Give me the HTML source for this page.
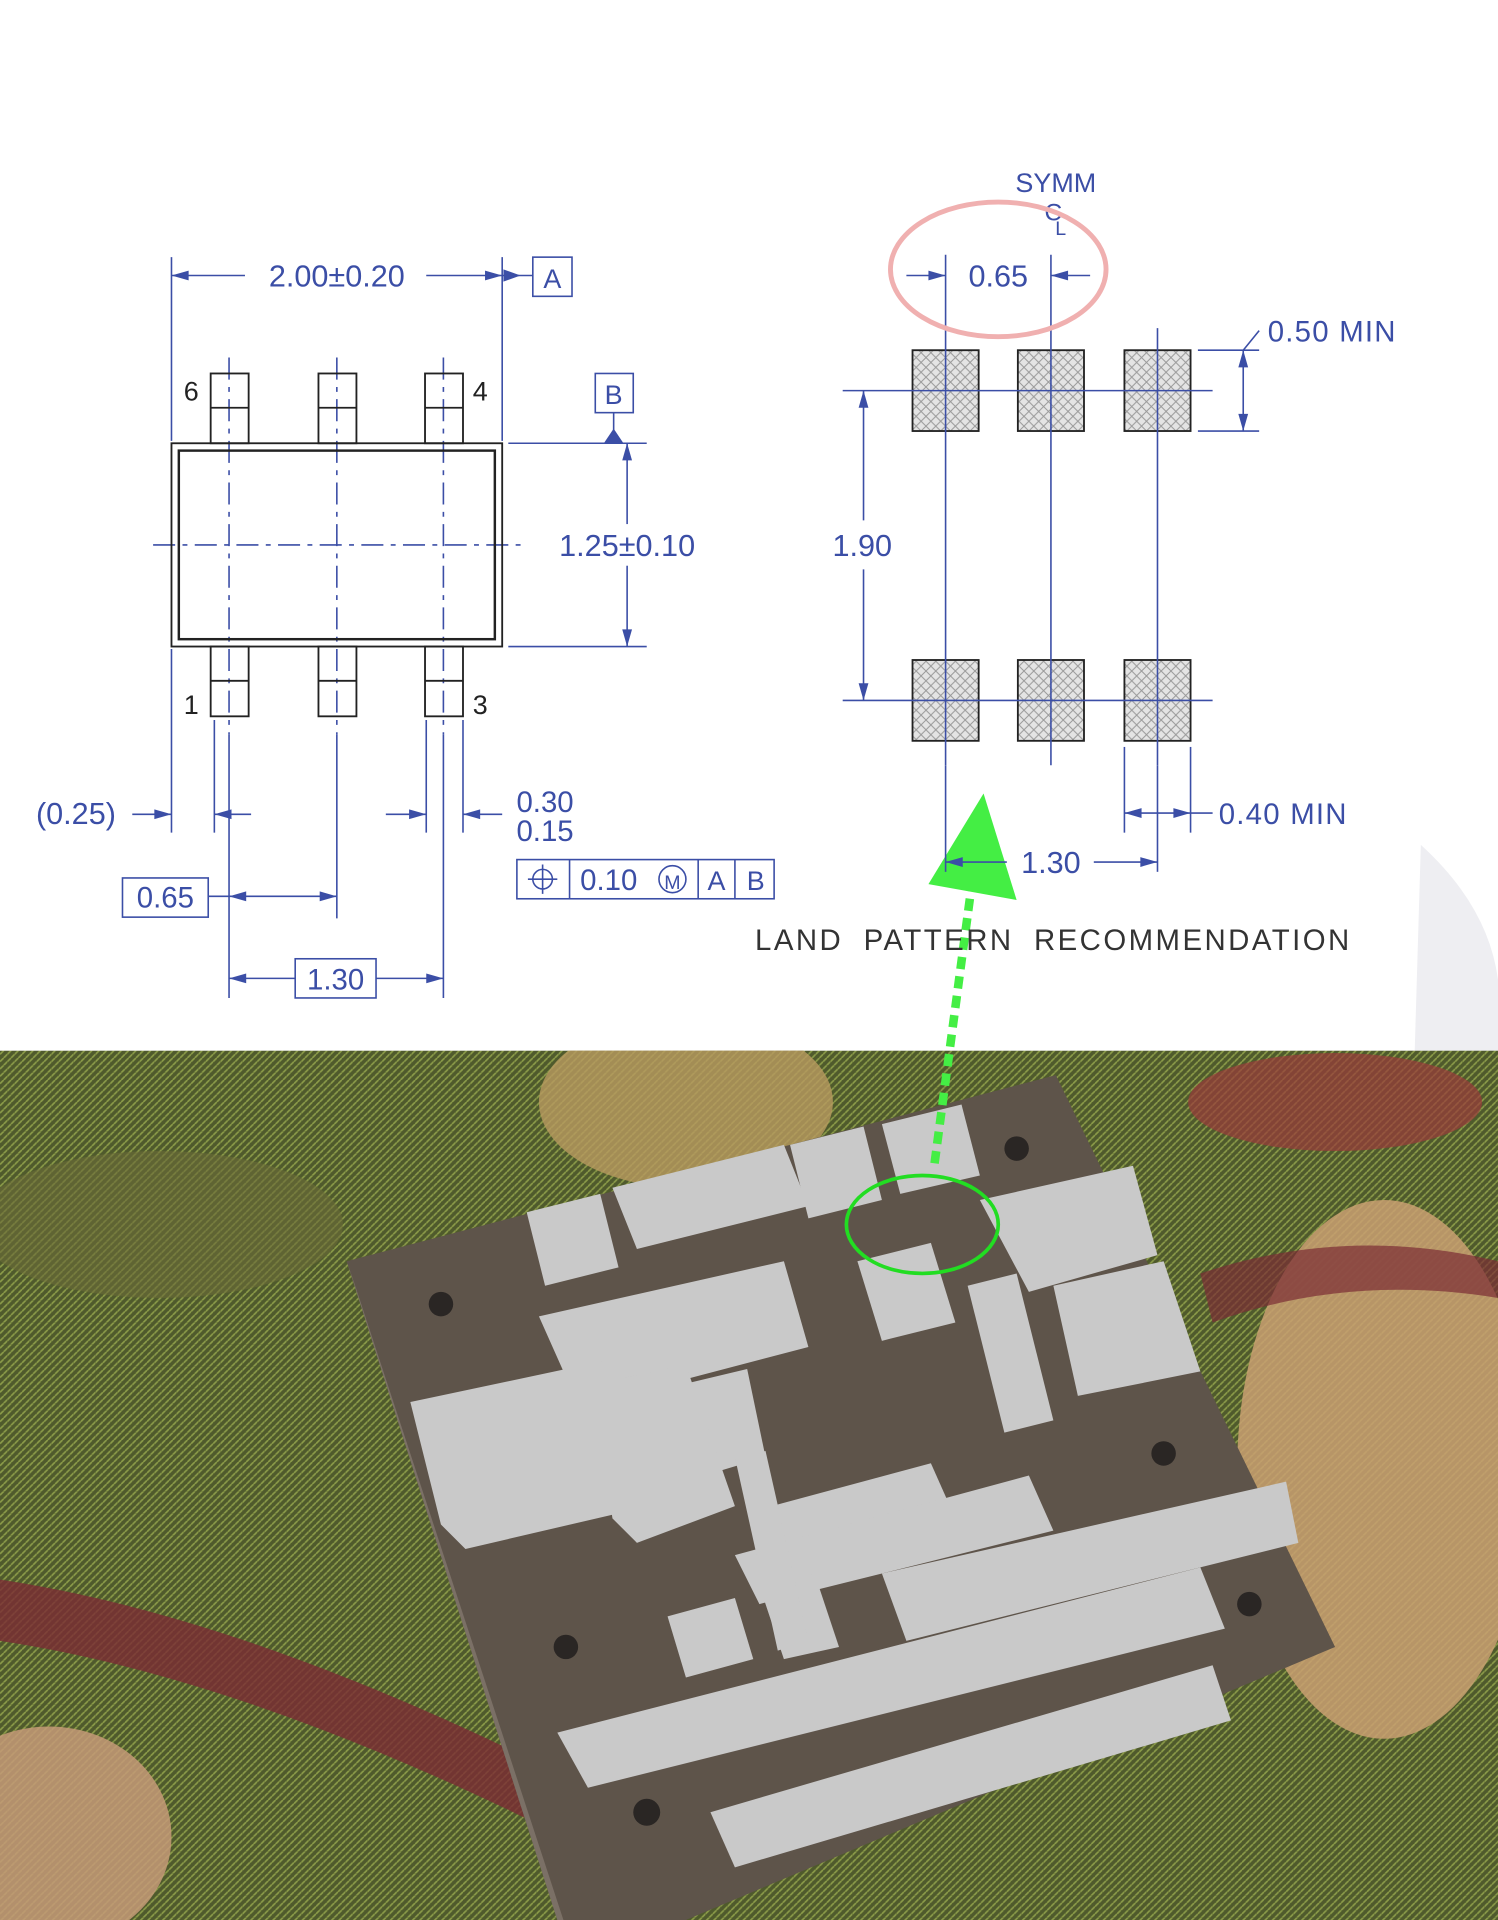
<!DOCTYPE html>
<html><head><meta charset="utf-8"><style>
html,body{margin:0;padding:0;background:#fff}
svg{display:block}
text{font-family:"Liberation Sans",sans-serif;fill:#3b4ea6}
</style></head><body>
<svg width="1498" height="1920" viewBox="0 0 1223 1568" preserveAspectRatio="none" xmlns="http://www.w3.org/2000/svg">
<defs>
<pattern id="h" width="8" height="8" patternUnits="userSpaceOnUse">
<rect width="8" height="8" fill="#e4e4e4"/>
<path d="M0 0L8 8M8 0L0 8" stroke="#999" stroke-width="0.8"/>
</pattern>
<pattern id="fab" width="6" height="6" patternUnits="userSpaceOnUse">
<rect width="6" height="6" fill="#4f5a2c"/>
<path d="M0 3L3 0M3 6L6 3" stroke="#8a9a48" stroke-width="1.4"/>
</pattern>
<clipPath id="bot"><rect y="858" width="1223" height="710"/></clipPath>
</defs>
<rect width="1223" height="858" fill="#fff"/>
<path d="M1160 690 Q1215 740 1223 800 L1223 858 L1155 858 Z" fill="#eeeef2"/>
<g clip-path="url(#bot)">
<rect y="858" width="1223" height="710" fill="url(#fab)"/>
<ellipse cx="560" cy="900" rx="120" ry="70" fill="#b89a60" opacity="0.8"/>
<ellipse cx="1130" cy="1200" rx="120" ry="220" fill="#c9a072" opacity="0.85"/>
<ellipse cx="1090" cy="900" rx="120" ry="40" fill="#9a3a3a" opacity="0.7"/>
<ellipse cx="40" cy="1500" rx="100" ry="90" fill="#c49a78" opacity="0.85"/>
<ellipse cx="130" cy="1000" rx="150" ry="60" fill="#6a6a38" opacity="0.6"/>
<path d="M0 1290 Q200 1320 460 1450 L460 1500 Q200 1370 0 1340Z" fill="#7a2c34" opacity="0.8"/>
<path d="M980 1040 Q1100 1000 1223 1030 L1223 1060 Q1100 1040 990 1080Z" fill="#7a2c34" opacity="0.7"/>
</g>
<polygon points="283,1030 862,878 1090,1345 560,1568 455,1568" fill="#5e544a"/>
<polygon points="283,1030 290,1050 460,1568 455,1568" fill="#7b7066"/>
<g fill="#c9c9c9">
<polygon points="430,990 490,975 505,1035 445,1050"/>
<polygon points="500,970 640,935 660,985 520,1020"/>
<polygon points="645,935 705,920 720,980 660,995"/>
<polygon points="720,918 785,902 800,960 735,975"/>
<polygon points="440,1075 640,1030 660,1100 470,1150 460,1120"/>
<polygon points="335,1145 500,1110 530,1230 380,1265 360,1245"/>
<polygon points="800,980 925,952 945,1025 840,1055"/>
<polygon points="860,1050 950,1030 980,1120 880,1140"/>
<polygon points="700,1030 760,1015 780,1080 720,1095"/>
<polygon points="560,1130 610,1118 625,1190 575,1205"/>
<polygon points="485,1130 560,1115 600,1230 520,1260 500,1240"/>
<polygon points="630,1230 760,1195 780,1240 650,1280"/>
<polygon points="600,1270 840,1205 860,1250 620,1310"/>
<polygon points="720,1285 1050,1210 1060,1260 740,1340"/>
<polygon points="545,1320 600,1305 615,1355 560,1370"/>
<polygon points="620,1295 665,1285 685,1345 640,1355"/>
<polygon points="600,1190 625,1185 660,1340 635,1348"/>
<polygon points="455,1415 980,1280 1000,1330 480,1460"/>
<polygon points="580,1480 990,1360 1005,1405 600,1525"/>
<polygon points="790,1050 830,1040 860,1160 820,1170"/>
</g>
<g fill="#2a2624">
<circle cx="360" cy="1065" r="10"/><circle cx="830" cy="938" r="10"/>
<circle cx="950" cy="1187" r="10"/><circle cx="462" cy="1345" r="10"/>
<circle cx="1020" cy="1310" r="10"/><circle cx="528" cy="1480" r="11"/>
</g>
<ellipse cx="753" cy="1000" rx="62" ry="40" fill="none" stroke="#22dd22" stroke-width="3"/>
<path d="M763 950 L795 710" stroke="#44ee44" stroke-width="7" stroke-dasharray="10 6" fill="none"/>
<polygon points="803,648 830,735 758,722" fill="#44ee44"/>

<g stroke="#3b4ea6" fill="none" stroke-width="1.3">
<line x1="140" y1="210" x2="140" y2="360"/><line x1="410" y1="210" x2="410" y2="360"/>
<line x1="140" y1="225" x2="200" y2="225"/><line x1="348" y1="225" x2="410" y2="225"/>
<line x1="410" y1="225" x2="435" y2="225"/>
<rect x="435" y="210" width="32" height="32"/>
<rect x="486" y="305" width="31" height="32"/>
<line x1="501" y1="337" x2="501" y2="355"/>
<line x1="415" y1="362" x2="528" y2="362"/><line x1="415" y1="528" x2="528" y2="528"/>
<line x1="512" y1="362" x2="512" y2="428"/><line x1="512" y1="462" x2="512" y2="528"/>
<g stroke-dasharray="18 6 4 6">
<line x1="125" y1="445" x2="425" y2="445"/>
<line x1="187" y1="292" x2="187" y2="600"/>
<line x1="275" y1="292" x2="275" y2="600"/>
<line x1="362" y1="292" x2="362" y2="600"/>
</g>
<line x1="140" y1="530" x2="140" y2="680"/>
<line x1="175" y1="588" x2="175" y2="680"/><line x1="187" y1="600" x2="187" y2="815"/>
<line x1="275" y1="600" x2="275" y2="750"/>
<line x1="348" y1="588" x2="348" y2="680"/><line x1="362" y1="600" x2="362" y2="815"/>
<line x1="378" y1="588" x2="378" y2="680"/>
<line x1="108" y1="665" x2="140" y2="665"/><line x1="175" y1="665" x2="205" y2="665"/>
<line x1="315" y1="665" x2="348" y2="665"/><line x1="378" y1="665" x2="410" y2="665"/>
<rect x="100" y="717" width="70" height="32"/>
<line x1="170" y1="732" x2="275" y2="732"/>
<rect x="241" y="783" width="66" height="32"/>
<line x1="187" y1="799" x2="241" y2="799"/><line x1="307" y1="799" x2="362" y2="799"/>
<rect x="422" y="702" width="210" height="32"/>
<line x1="465" y1="702" x2="465" y2="734"/><line x1="570" y1="702" x2="570" y2="734"/><line x1="600" y1="702" x2="600" y2="734"/>
<circle cx="443" cy="718" r="8"/><line x1="431" y1="718" x2="455" y2="718"/><line x1="443" y1="706" x2="443" y2="730"/>
<circle cx="549" cy="718" r="11"/>
</g>
<g fill="#3b4ea6">
<polygon points="140,225 154,221 154,229"/><polygon points="410,225 396,221 396,229"/>
<polygon points="425,225 411,220 411,230"/>
<polygon points="493,362 509,362 501,350"/>
<polygon points="512,362 508,376 516,376"/><polygon points="512,528 508,514 516,514"/>
<polygon points="140,665 126,661 126,669"/><polygon points="175,665 189,661 189,669"/>
<polygon points="348,665 334,661 334,669"/><polygon points="378,665 392,661 392,669"/>
<polygon points="187,732 201,728 201,736"/><polygon points="275,732 261,728 261,736"/>
<polygon points="187,799 201,795 201,803"/><polygon points="362,799 348,795 348,803"/>
</g>
<text x="275" y="234" font-size="25" text-anchor="middle">2.00±0.20</text>
<text x="451" y="235" font-size="22" text-anchor="middle">A</text>
<text x="501" y="330" font-size="22" text-anchor="middle">B</text>
<text x="512" y="454" font-size="25" text-anchor="middle">1.25±0.10</text>
<text x="62" y="673" font-size="25" text-anchor="middle">(0.25)</text>
<text x="445" y="663" font-size="24" text-anchor="middle">0.30</text>
<text x="445" y="687" font-size="24" text-anchor="middle">0.15</text>
<text x="135" y="741" font-size="24" text-anchor="middle">0.65</text>
<text x="274" y="808" font-size="24" text-anchor="middle">1.30</text>
<text x="497" y="727" font-size="24" text-anchor="middle">0.10</text>
<text x="549" y="726" font-size="16" text-anchor="middle">M</text>
<text x="585" y="727" font-size="22" text-anchor="middle">A</text>
<text x="617" y="727" font-size="22" text-anchor="middle">B</text>
<g stroke="#222" fill="none" stroke-width="1.5">
<rect x="140" y="362" width="270" height="166"/><rect x="146" y="368" width="258" height="154" stroke-width="2"/>
<rect x="172" y="305" width="31" height="57"/><rect x="260" y="305" width="31" height="57"/><rect x="347" y="305" width="31" height="57"/>
<rect x="172" y="528" width="31" height="57"/><rect x="260" y="528" width="31" height="57"/><rect x="347" y="528" width="31" height="57"/>
<line x1="172" y1="333" x2="203" y2="333"/><line x1="260" y1="333" x2="291" y2="333"/><line x1="347" y1="333" x2="378" y2="333"/>
<line x1="172" y1="556" x2="203" y2="556"/><line x1="260" y1="556" x2="291" y2="556"/><line x1="347" y1="556" x2="378" y2="556"/>
</g>
<text x="150" y="327" font-size="22" style="fill:#222">6</text><text x="386" y="327" font-size="22" style="fill:#222">4</text>
<text x="150" y="583" font-size="22" style="fill:#222">1</text><text x="386" y="583" font-size="22" style="fill:#222">3</text>

<g fill="url(#h)" stroke="#222" stroke-width="1.5">
<rect x="745" y="286" width="54" height="66"/><rect x="831" y="286" width="54" height="66"/><rect x="918" y="286" width="54" height="66"/>
<rect x="745" y="539" width="54" height="66"/><rect x="831" y="539" width="54" height="66"/><rect x="918" y="539" width="54" height="66"/>
</g>
<g stroke="#3b4ea6" fill="none" stroke-width="1.3">
<line x1="688" y1="319" x2="990" y2="319"/><line x1="688" y1="572" x2="990" y2="572"/>
<line x1="772" y1="208" x2="772" y2="625"/><line x1="858" y1="208" x2="858" y2="625"/><line x1="945" y1="268" x2="945" y2="625"/>
<line x1="772" y1="625" x2="772" y2="712"/><line x1="945" y1="625" x2="945" y2="712"/>
<line x1="918" y1="610" x2="918" y2="680"/><line x1="972" y1="610" x2="972" y2="680"/>
<line x1="740" y1="225" x2="772" y2="225"/><line x1="858" y1="225" x2="890" y2="225"/>
<line x1="978" y1="286" x2="1028" y2="286"/><line x1="978" y1="352" x2="1028" y2="352"/>
<line x1="1015" y1="286" x2="1015" y2="352"/><line x1="1015" y1="286" x2="1028" y2="270"/>
<line x1="705" y1="319" x2="705" y2="425"/><line x1="705" y1="465" x2="705" y2="572"/>
<line x1="918" y1="664" x2="990" y2="664"/>
<line x1="772" y1="704" x2="822" y2="704"/><line x1="893" y1="704" x2="945" y2="704"/>
</g>
<g fill="#3b4ea6">
<polygon points="772,225 758,221 758,229"/><polygon points="858,225 872,221 872,229"/>
<polygon points="1015,286 1011,300 1019,300"/><polygon points="1015,352 1011,338 1019,338"/>
<polygon points="705,319 701,333 709,333"/><polygon points="705,572 701,558 709,558"/>
<polygon points="918,664 932,660 932,668"/><polygon points="972,664 958,660 958,668"/>
<polygon points="772,704 786,700 786,708"/><polygon points="945,704 931,700 931,708"/>
</g>
<text x="862" y="157" font-size="22" text-anchor="middle">SYMM</text>
<text x="860" y="180" font-size="20" text-anchor="middle">C</text>
<text x="866" y="192" font-size="16" text-anchor="middle">L</text>
<text x="815" y="234" font-size="25" text-anchor="middle">0.65</text>
<text x="1035" y="279" font-size="24" style="letter-spacing:1px">0.50  MIN</text>
<text x="704" y="454" font-size="25" text-anchor="middle">1.90</text>
<text x="995" y="673" font-size="24" style="letter-spacing:1px">0.40  MIN</text>
<text x="858" y="713" font-size="25" text-anchor="middle">1.30</text>
<text x="860" y="776" font-size="24" text-anchor="middle" style="fill:#333;letter-spacing:2px;word-spacing:8px">LAND PATTERN RECOMMENDATION</text>
<ellipse cx="815" cy="220" rx="88" ry="55" fill="none" stroke="#f0b0b0" stroke-width="4"/>
</svg>
</body></html>
